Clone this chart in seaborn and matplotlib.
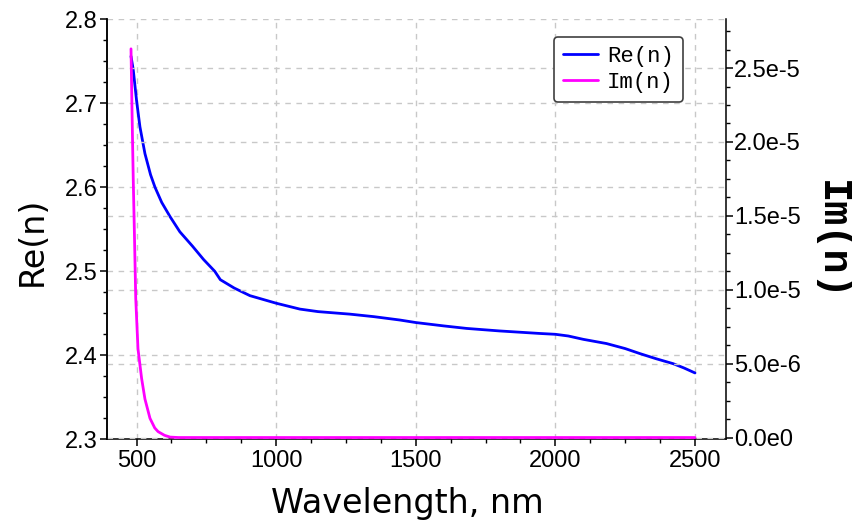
import matplotlib
matplotlib.use("Agg")
import matplotlib.pyplot as plt
from matplotlib.ticker import MultipleLocator, AutoMinorLocator, FuncFormatter
import seaborn as sns

# Real part of the refractive index
wavelength_re = [480, 488, 500, 512, 530, 550, 566, 590, 620, 655, 700, 740, 780,
                 800, 815, 850, 906, 1000, 1085, 1150, 1264, 1350, 1443, 1500,
                 1600, 1682, 1800, 1944, 2000, 2046, 2100, 2183, 2250, 2303,
                 2360, 2422, 2460, 2500]
re_n = [2.756, 2.740, 2.703, 2.672, 2.640, 2.615, 2.600, 2.582, 2.565, 2.547,
        2.530, 2.514, 2.500, 2.490, 2.487, 2.480, 2.471, 2.462, 2.455, 2.452,
        2.449, 2.446, 2.442, 2.439, 2.435, 2.432, 2.429, 2.426, 2.425, 2.423,
        2.419, 2.414, 2.408, 2.402, 2.396, 2.390, 2.385, 2.379]

# Imaginary part of the refractive index
wavelength_im = [480, 484, 488, 492, 497, 505, 518, 530, 548, 565, 577, 600, 620,
                 650, 700, 1000, 1500, 2000, 2500]
im_n = [2.63e-5, 2.17e-5, 1.75e-5, 1.40e-5, 9.4e-6, 6.0e-6, 4.0e-6, 2.6e-6,
        1.3e-6, 6.5e-7, 4.0e-7, 1.5e-7, 3e-8, 0.0, 0.0, 0.0, 0.0, 0.0, 0.0]

x_ticks = [500, 1000, 1500, 2000, 2500]

sns.set_style("white")
plt.rcParams["font.family"] = ["Liberation Sans", "DejaVu Sans"]
plt.rcParams["text.color"] = "black"
plt.rcParams["axes.labelcolor"] = "black"

fig = plt.figure(figsize=(8.53, 5.27), dpi=100)
ax = fig.add_axes([0.1251, 0.1664, 0.726, 0.797])
ax2 = ax.twinx()

sns.lineplot(x=wavelength_re, y=re_n, ax=ax, color="#0000ff", linewidth=2.0,
             label="Re(n)", legend=False)
sns.lineplot(x=wavelength_im, y=im_n, ax=ax2, color="#ff00ff", linewidth=2.0,
             label="Im(n)", legend=False)

ax.set_xlim(393, 2611)
ax.set_ylim(2.3, 2.8)
ax2.set_ylim(-1.2e-7, 2.83e-5)

ax.set_xticks(x_ticks)
ax.xaxis.set_minor_locator(AutoMinorLocator(4))
ax.yaxis.set_major_locator(MultipleLocator(0.1))
ax.yaxis.set_minor_locator(AutoMinorLocator(4))
ax2.yaxis.set_major_locator(MultipleLocator(5e-6))
ax2.yaxis.set_minor_locator(AutoMinorLocator(4))


def sci_label(v, pos):
    if abs(v) < 1e-15:
        return "0.0e0"
    mant, exp = f"{v:.1e}".split("e")
    return f"{mant}e{int(exp)}"


ax2.yaxis.set_major_formatter(FuncFormatter(sci_label))
ax.yaxis.set_major_formatter(FuncFormatter(lambda v, p: f"{v:.1f}"))

grid_kw = dict(color="#c8c8c8", linestyle=(0, (4, 4)), linewidth=1.0)
ax.grid(True, which="major", axis="both", **grid_kw)
ax2.grid(True, which="major", axis="y", **grid_kw)
ax.set_axisbelow(True)
ax2.set_axisbelow(True)

for a in (ax, ax2):
    for side in ("left", "right", "bottom"):
        a.spines[side].set_color("black")
        a.spines[side].set_linewidth(1.1)
    a.spines["top"].set_visible(False)
    a.tick_params(which="major", length=5, width=1.1, color="black",
                  labelsize=17, labelcolor="black")
    a.tick_params(which="minor", length=2.8, width=1.0, color="black")

ax.tick_params(axis="y", which="both", left=True, right=False, pad=1.5)
ax.tick_params(axis="x", which="both", bottom=True, pad=3)
ax2.tick_params(axis="y", which="both", right=True, left=False, pad=1)
ax.spines["right"].set_visible(False)
ax2.spines["bottom"].set_visible(False)

ax.set_xlabel("Wavelength, nm", fontsize=24, family="DejaVu Sans")
ax.xaxis.set_label_coords(0.485, -0.113)
ax.set_ylabel("Re(n)", fontsize=24, family="DejaVu Sans")
ax.yaxis.set_label_coords(-0.093, 0.472)
ax2.set_ylabel("Im(n)", fontsize=29, family="Liberation Mono",
               fontweight="bold", rotation=-90, va="center")
ax2.yaxis.set_label_coords(1.171, 0.474)

handles = ax.get_lines()[:1] + ax2.get_lines()[:1]
leg = ax2.legend(handles, ["Re(n)", "Im(n)"], loc="upper right",
                 bbox_to_anchor=(0.9306, 0.9586), borderaxespad=0,
                 prop={"family": "Liberation Mono", "size": 16},
                 frameon=True, fancybox=True, edgecolor="#404040",
                 framealpha=1.0, handlelength=1.6, handletextpad=0.4,
                 labelspacing=0.25, borderpad=0.4)
leg.get_frame().set_linewidth(1.2)

fig.savefig("out.png", dpi=100)
